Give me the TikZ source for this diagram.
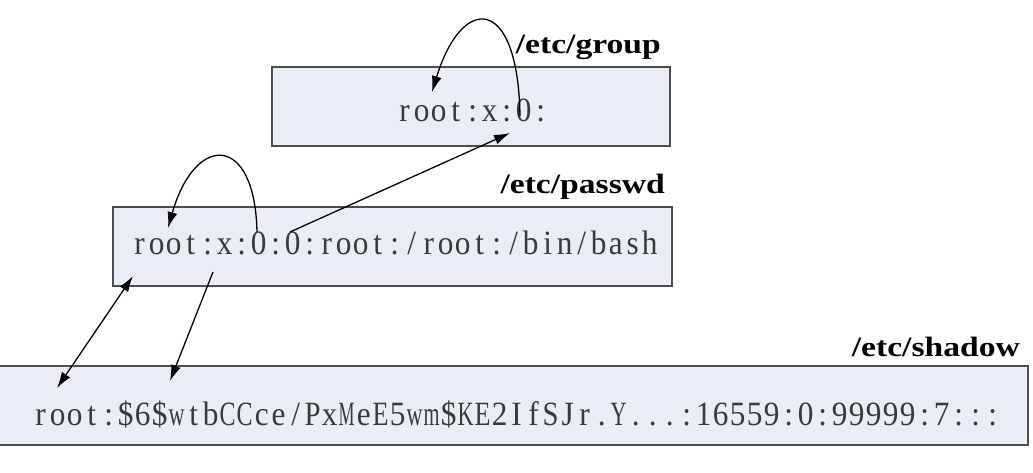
\documentclass[tikz,border=0pt]{standalone}
\usepackage{fontspec}
\usepackage{graphicx}
\setmainfont{Liberation Serif}
\newfontfamily\entryfont[FakeStretch=0.92]{Liberation Serif}
\newfontfamily\namefont[FakeStretch=1.2]{Liberation Serif}
\usetikzlibrary{arrows.meta,positioning}

\definecolor{boxfill}{HTML}{E8EDF6}
\definecolor{boxborder}{HTML}{4D4D4D}
\definecolor{entrytext}{HTML}{3A3A3A}

% each character in a cell of its own, like a fixed-pitch font;
% wide letters are squeezed into the cell
\newsavebox\cellbox
\newcommand\onecell[1]{\sbox\cellbox{#1}%
  \ifdim\wd\cellbox>16pt \makebox[17pt]{\resizebox{16pt}{\height}{#1}}%
  \else\makebox[17pt]{#1}\fi}
\newcommand\cells[1]{\cellsloop#1\relax}
\def\cellsloop#1{\ifx#1\relax\else\onecell{#1}\expandafter\cellsloop\fi}

\begin{document}
\begin{tikzpicture}[x=1pt, y=-1pt]
    \tikzstyle{filebox}  = [draw=boxborder, fill=boxfill, line width=1.8pt, minimum height=79pt, inner sep=0pt]
    \tikzstyle{entry}    = [font=\entryfont\fontsize{34}{38}\selectfont, text=entrytext, inner sep=0pt, anchor=base west]
    \tikzstyle{filename} = [font=\namefont\bfseries\fontsize{28}{32}\selectfont, inner sep=0pt, anchor=base east]
    \tikzstyle{link}     = [line width=1.3pt, -{Latex[length=16pt,width=10pt]}]

    \useasboundingbox (0,0) rectangle (1033,473);

    % File boxes
    \node [filebox, minimum width=398pt]  (grpbox) at (471,106.5) {};
    \node [filebox, minimum width=559pt]  (pwbox)  at (392.5,246.5) {};
    \node [filebox, minimum width=1031pt] (shbox)  at (512.5,405.5) {};

    % File names
    \node [filename] (grpname) at (661,54)  {/etc/group};
    \node [filename] (pwname)  at (665,194) {/etc/passwd};
    \node [filename] (shname)  at (1020,356) {/etc/shadow};

    % Entries
    \node [entry] (grptext) at (396,122) {\cells{root:x:0:}};
    \node [entry] (pwtext)  at (131,254) {\cells{root:x:0:0:root:/root:/bin/bash}};
    \node [entry] (shtext)  at (32,425)  {\cells{root:\$6\$wtbCCce/PxMeE5wm\$KE2IfSJr.Y...:16559:0:99999:7:::}};

    % Field points
    \coordinate (grpgid)   at (520,116);
    \coordinate (grpname0) at (432,92);
    \coordinate (grpcol)   at (510,133);
    \coordinate (pwuid)    at (257,232);
    \coordinate (pwgid)    at (290,232);
    \coordinate (pwname0)  at (168,228);
    \coordinate (pwbot)    at (133,276);
    \coordinate (pwpass)   at (213,272);
    \coordinate (shname0)  at (57,388);
    \coordinate (shpass)   at (170,381);

    % Connections
    \draw [link] (grpgid) .. controls (518,-6) and (462,-6) .. (grpname0);
    \draw [link] (pwuid) .. controls (255,133) and (195,133) .. (pwname0);
    \draw [link] (pwgid) -- (grpcol);
    \draw [link, {Latex[length=16pt,width=10pt]}-{Latex[length=16pt,width=10pt]}] (pwbot) -- (shname0);
    \draw [link] (pwpass) -- (shpass);
\end{tikzpicture}
\end{document}
